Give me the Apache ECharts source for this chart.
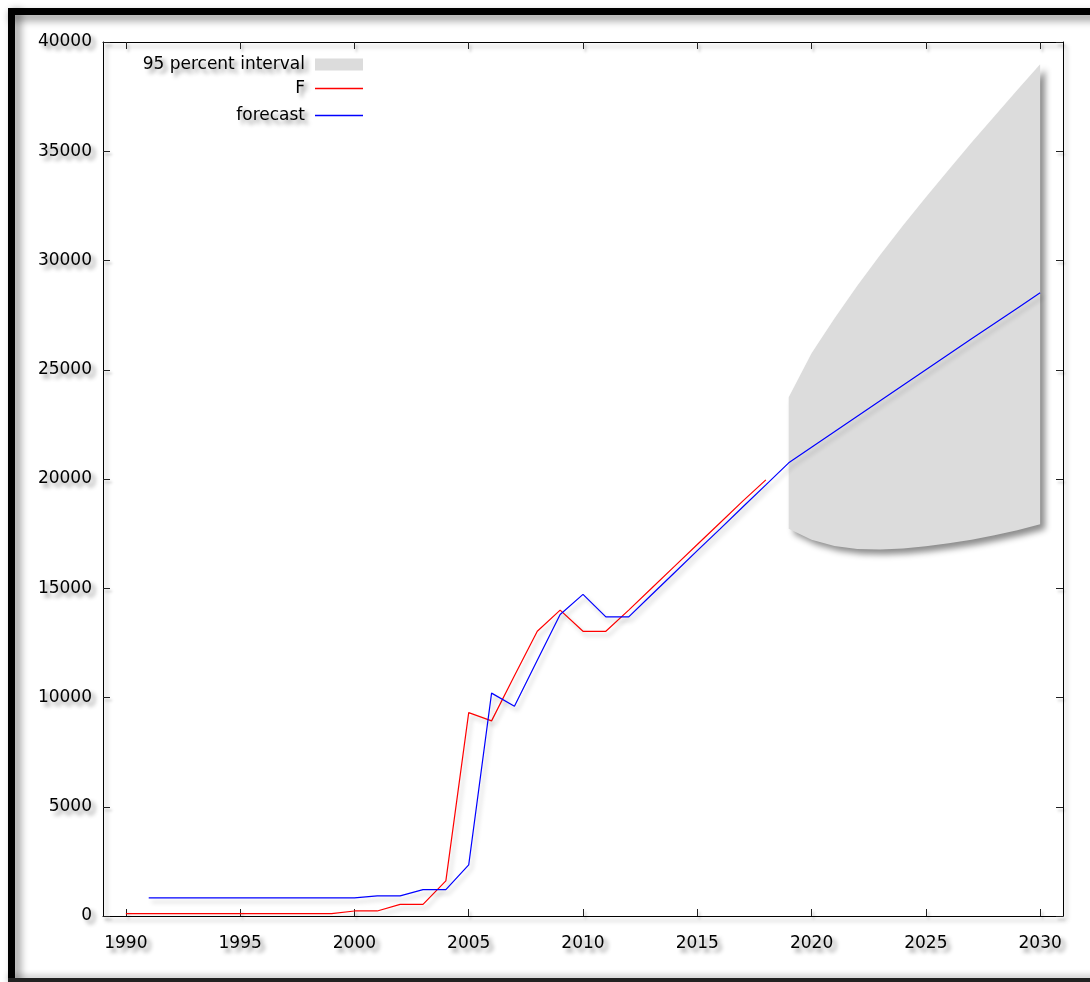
<!DOCTYPE html>
<html>
<head>
<meta charset="utf-8">
<script src="https://cdn.jsdelivr.net/npm/echarts@6/dist/echarts.min.js"></script>
<style>
html,body{margin:0;padding:0;background:#fff;}
#c{width:1090px;height:982px;}
</style>
</head>
<body>
<div id="c"></div>
<script>
// ---- data ----
const fYears = [1990,1991,1992,1993,1994,1995,1996,1997,1998,1999,2000,2001,2002,2003,2004,2005,2006,2007,2008,2009,2010,2011,2012,2013,2014,2015,2016,2017,2018];
const fValues = [110,110,110,110,110,110,110,110,110,110,230,230,535,535,1610,9310,8930,11000,13030,14000,13030,13030,14000,15000,16000,17000,18000,19000,19960];

const fcYears = [1991,1992,1993,1994,1995,1996,1997,1998,1999,2000,2001,2002,2003,2004,2005,2006,2007,2008,2009,2010,2011,2012,2013,2014,2015,2016,2017,2018,2019,2020,2021,2022,2023,2024,2025,2026,2027,2028,2029,2030];
const fcValues = [830,830,830,830,830,830,830,830,830,830,920,920,1210,1210,2340,10200,9600,11700,13800,14720,13690,13690,14700,15710,16720,17720,18730,19730,20740,21450,22160,22870,23580,24290,25000,25710,26420,27120,27820,28520];

const bandYears = [2019,2020,2021,2022,2023,2024,2025,2026,2027,2028,2029,2030];
const bandUpper = [23740,25750,27350,28850,30250,31600,32900,34150,35400,36600,37800,38980];
const bandLower = [17720,17220,16930,16800,16770,16820,16920,17060,17220,17420,17650,17930];

const xTicks = [1990,1995,2000,2005,2010,2015,2020,2025,2030];
const yTicks = [0,5000,10000,15000,20000,25000,30000,35000,40000];

const names = { band: '95 percent interval', f: 'F', fc: 'forecast' };

// ---- chart ----
const FONT = 'DejaVu Sans';
const FS = 17;
const txtShadow = { textShadowColor: 'rgba(0,0,0,0.45)', textShadowBlur: 4, textShadowOffsetX: 4, textShadowOffsetY: 4 };
const lineShadow = { shadowColor: 'rgba(0,0,0,0.35)', shadowBlur: 4, shadowOffsetX: 3, shadowOffsetY: 4 };

const axisLineStyle = Object.assign({ color: '#000', width: 1 }, lineShadow);
const tickStyle = Object.assign({ color: '#222', width: 1 }, { shadowColor: 'rgba(0,0,0,0.3)', shadowBlur: 3, shadowOffsetX: 2, shadowOffsetY: 3 });
const plain = v => String(v);

function xAxis(pos, withLabels) {
  return {
    type: 'value', position: pos, min: 1989, max: 2031,
    axisLine: { show: true, onZero: false, lineStyle: axisLineStyle },
    axisTick: { show: true, inside: true, length: 7, customValues: xTicks, lineStyle: tickStyle },
    axisLabel: withLabels ? Object.assign({ show: true, customValues: xTicks, formatter: plain, margin: 19, color: '#000', fontFamily: FONT, fontSize: FS }, txtShadow) : { show: false },
    splitLine: { show: false }
  };
}
function yAxis(pos, withLabels) {
  return {
    type: 'value', position: pos, min: 0, max: 40000,
    axisLine: { show: true, onZero: false, lineStyle: axisLineStyle },
    axisTick: { show: true, inside: true, length: 7, customValues: yTicks, lineStyle: tickStyle },
    axisLabel: withLabels ? Object.assign({ show: true, customValues: yTicks, formatter: plain, margin: 11, color: '#000', fontFamily: FONT, fontSize: FS }, txtShadow) : { show: false },
    splitLine: { show: false }
  };
}

function legendAt(name, top, itemHeight) {
  return {
    data: [{ name: name, icon: 'rect' }],
    orient: 'vertical', align: 'right', right: 727, top: top,
    padding: 0, itemWidth: 48, itemHeight: itemHeight,
    selectedMode: false,
    textStyle: Object.assign({ color: '#000', fontFamily: FONT, fontSize: FS, padding: [0, 5, 0, 0] }, txtShadow)
  };
}

const chart = echarts.init(document.getElementById('c'), null, { renderer: 'canvas' });
chart.setOption({
  animation: false,
  backgroundColor: '#fff',
  grid: { left: 103, right: 27, top: 42, bottom: 66, containLabel: false },
  xAxis: [xAxis('bottom', true), xAxis('top', false)],
  yAxis: [yAxis('left', true), yAxis('right', false)],
  legend: [
    legendAt(names.band, 56, 12),
    legendAt(names.f, 80, 1.5),
    legendAt(names.fc, 107, 1.5)
  ],
  graphic: [
    { type: 'rect', shape: { x: 8, y: 8, width: 1090, height: 7 }, style: { fill: '#000', shadowColor: 'rgba(0,0,0,0.45)', shadowBlur: 8, shadowOffsetX: 2, shadowOffsetY: 5 }, z: 100 },
    { type: 'rect', shape: { x: 8, y: 8, width: 7, height: 980 }, style: { fill: '#000', shadowColor: 'rgba(0,0,0,0.45)', shadowBlur: 8, shadowOffsetX: 5, shadowOffsetY: 2 }, z: 100 },
    { type: 'rect', shape: { x: 8, y: 978, width: 1090, height: 4 }, style: { fill: '#222', shadowColor: 'rgba(0,0,0,0.3)', shadowBlur: 6, shadowOffsetX: 0, shadowOffsetY: -2 }, z: 100 }
  ],
  series: [
    {
      name: names.band,
      type: 'custom',
      itemStyle: { color: '#dcdcdc' },
      data: bandYears.map((y, i) => [y, bandLower[i], bandUpper[i]]),
      encode: { x: 0, y: [1, 2] },
      z: 1,
      renderItem: function (params, api) {
        if (params.dataIndex !== 0) return null;
        const pts = [];
        for (let i = 0; i < bandYears.length; i++) pts.push(api.coord([bandYears[i], bandUpper[i]]));
        for (let i = bandYears.length - 1; i >= 0; i--) pts.push(api.coord([bandYears[i], bandLower[i]]));
        return {
          type: 'polygon',
          shape: { points: pts },
          style: { fill: '#dcdcdc', shadowColor: 'rgba(0,0,0,0.45)', shadowBlur: 6, shadowOffsetX: 5, shadowOffsetY: 5 }
        };
      }
    },
    {
      name: names.f, type: 'line', symbol: 'none', z: 3,
      color: '#ff0000',
      itemStyle: { color: '#ff0000' },
      lineStyle: Object.assign({ color: '#ff0000', width: 1.2 }, { shadowColor: 'rgba(0,0,0,0.25)', shadowBlur: 4, shadowOffsetX: 3, shadowOffsetY: 4 }),
      data: fYears.map((y, i) => [y, fValues[i]])
    },
    {
      name: names.fc, type: 'line', symbol: 'none', z: 4,
      color: '#0000ff',
      itemStyle: { color: '#0000ff' },
      lineStyle: Object.assign({ color: '#0000ff', width: 1.2 }, { shadowColor: 'rgba(0,0,0,0.25)', shadowBlur: 4, shadowOffsetX: 3, shadowOffsetY: 4 }),
      data: fcYears.map((y, i) => [y, fcValues[i]])
    }
  ]
});
</script>
</body>
</html>
